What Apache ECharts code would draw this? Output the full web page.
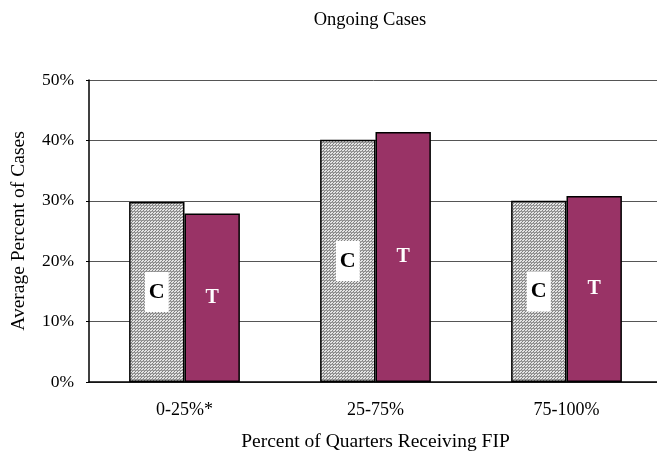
<!DOCTYPE html>
<html>
<head>
<meta charset="utf-8">
<script src="https://cdn.jsdelivr.net/npm/echarts@6/dist/echarts.min.js"></script>
<style>
  html, body { margin: 0; padding: 0; background: #fff; }
  #chart { width: 657px; height: 459px; }
</style>
</head>
<body>
<div id="chart"></div>
<script>
const categories = ['0-25%*', '25-75%', '75-100%'];
const comparisonValues = [29.8, 40.1, 30.0];
const treatmentValues = [27.9, 41.4, 30.8];
const yTicks = [0, 10, 20, 30, 40, 50];

const serif = 'Liberation Serif';

// hatch fill for the C bars
function makeHatch() {
    const c = document.createElement('canvas');
    c.width = 6;
    c.height = 6;
    const ctx = c.getContext('2d');
    ctx.fillStyle = '#e4e4e4';
    ctx.fillRect(0, 0, 6, 6);
    ctx.strokeStyle = '#6a6a6a';
    ctx.lineWidth = 0.8;
    for (let i = -6; i <= 12; i += 3) {
        ctx.beginPath();
        ctx.moveTo(i, 6);
        ctx.lineTo(i + 6, 0);
        ctx.stroke();
    }
    ctx.strokeStyle = '#8a8a8a';
    ctx.lineWidth = 0.8;
    for (let y = 1; y < 6; y += 3) {
        ctx.beginPath();
        ctx.moveTo(0, y + 0.5);
        ctx.lineTo(6, y + 0.5);
        ctx.stroke();
    }
    return c;
}

const chart = echarts.init(document.getElementById('chart'), null, { renderer: 'canvas' });

chart.setOption({
    animation: false,
    backgroundColor: '#fff',
    title: {
        text: 'Ongoing Cases',
        left: 365,
        textAlign: 'center',
        top: 6,
        textStyle: { fontFamily: serif, fontSize: 18.5, fontWeight: 'normal', color: '#000' }
    },
    // plot runs past the right edge of the picture, as in the original
    grid: { left: 89, top: 80, bottom: 77, width: 573, outerBoundsMode: 'none', containLabel: false },
    xAxis: {
        type: 'category',
        data: categories,
        name: 'Percent of Quarters Receiving FIP',
        nameLocation: 'middle',
        nameGap: 50,
        nameTextStyle: { fontFamily: serif, fontSize: 19.5, color: '#000' },
        axisLine: { lineStyle: { color: '#000', width: 1.5 } },
        axisTick: { show: false },
        axisLabel: { fontFamily: serif, fontSize: 18, color: '#000', margin: 19 }
    },
    yAxis: {
        type: 'value',
        min: yTicks[0],
        max: yTicks[yTicks.length - 1],
        interval: 10,
        name: 'Average Percent of Cases',
        nameLocation: 'middle',
        nameGap: 60,
        nameTextStyle: { fontFamily: serif, fontSize: 19.5, color: '#000' },
        axisLine: { show: true, lineStyle: { color: '#000', width: 1.5 } },
        axisTick: { show: true, length: 3, lineStyle: { color: '#000' } },
        axisLabel: { fontFamily: serif, fontSize: 17.5, color: '#000', margin: 15, formatter: '{value}%' },
        splitLine: { lineStyle: { color: '#555', width: 1 } }
    },
    series: [
        {
            name: 'C',
            type: 'bar',
            data: comparisonValues,
            barGap: '0%',
            barCategoryGap: '42%',
            itemStyle: {
                color: { image: makeHatch(), repeat: 'repeat' },
                borderColor: '#000',
                borderWidth: 1.5
            },
            label: {
                show: true,
                position: 'inside',
                formatter: 'C',
                fontFamily: serif,
                fontSize: 22,
                fontWeight: 'bold',
                color: '#000',
                backgroundColor: '#fff',
                padding: [9, 4, 9, 4]
            }
        },
        {
            name: 'T',
            type: 'bar',
            data: treatmentValues,
            itemStyle: {
                color: '#993366',
                borderColor: '#000',
                borderWidth: 1.5
            },
            label: {
                show: true,
                position: 'inside',
                formatter: 'T',
                fontFamily: serif,
                fontSize: 20,
                fontWeight: 'bold',
                color: '#fff'
            }
        }
    ]
});
</script>
</body>
</html>
